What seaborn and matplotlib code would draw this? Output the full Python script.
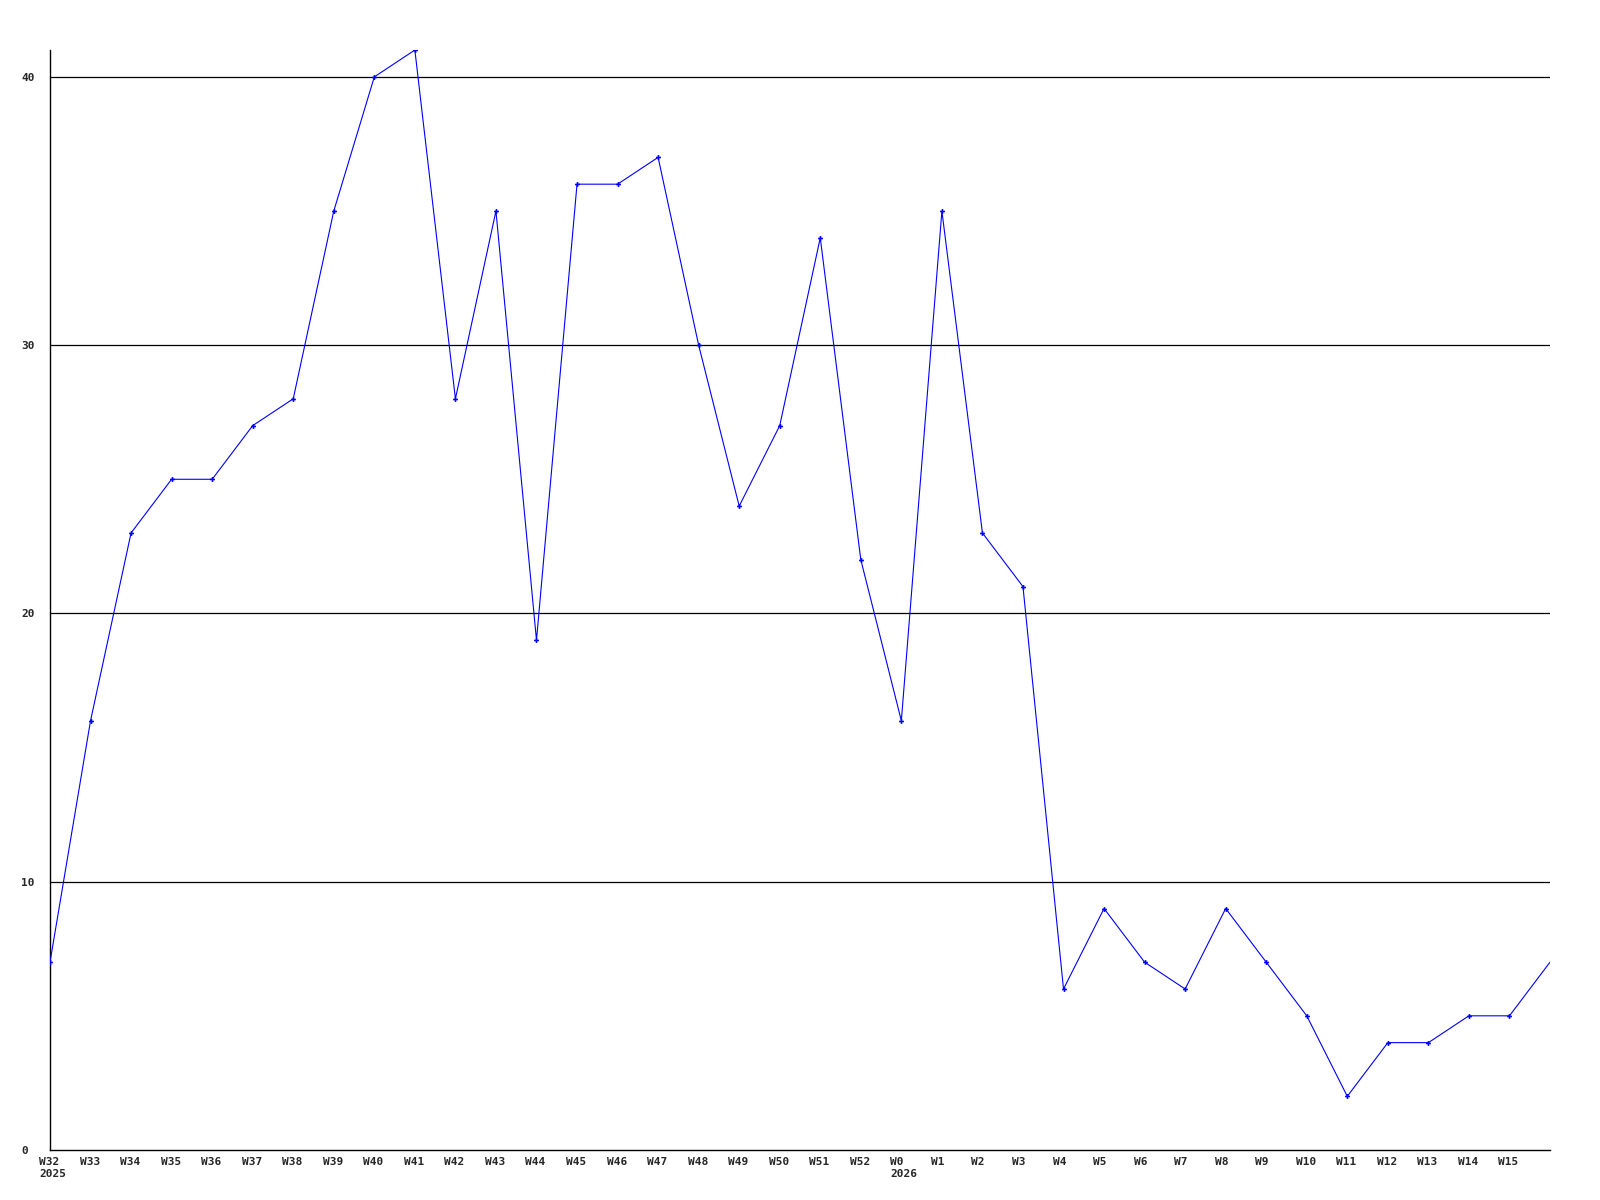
import matplotlib
matplotlib.use("Agg")
import matplotlib.pyplot as plt
import matplotlib.transforms as mtransforms
import seaborn as sns
import pandas as pd

weeks = ["W32", "W33", "W34", "W35", "W36", "W37", "W38", "W39", "W40", "W41",
         "W42", "W43", "W44", "W45", "W46", "W47", "W48", "W49", "W50", "W51",
         "W52", "W0", "W1", "W2", "W3", "W4", "W5", "W6", "W7", "W8",
         "W9", "W10", "W11", "W12", "W13", "W14", "W15", ""]
counts = [7, 16, 23, 25, 25, 27, 28, 35, 40, 41,
          28, 35, 19, 36, 36, 37, 30, 24, 27, 34,
          22, 16, 35, 23, 21, 6, 9, 7, 6, 9,
          7, 5, 2, 4, 4, 5, 5, 7]
year_marks = {"W32": "2025", "W0": "2026"}
y_ticks = [0, 10, 20, 30, 40]

sns.set_theme(style="white")
plt.rcParams['font.family'] = ['DejaVu Sans Mono']

df = pd.DataFrame({"idx": range(len(counts)), "count": counts})

fig = plt.figure(figsize=(16, 12), dpi=100)
ax = fig.add_axes([0.03125, 0.0417, 0.9375, 0.9166])

for y in y_ticks[1:]:
    ax.axhline(y, color="black", linewidth=0.9, zorder=1)

sns.lineplot(data=df, x="idx", y="count", ax=ax, color="#0000ff", linewidth=0.8,
             marker="P", markersize=3.5, markeredgewidth=0, zorder=3,
             markevery=list(range(len(counts) - 1)))

labels = [w + ("\n" + year_marks[w] if w in year_marks else "") for w in weeks]
ax.set_xticks(range(len(weeks)))
ax.set_xticklabels(labels, fontsize=8, fontweight="bold", ha="left")
ax.set_yticks(y_ticks)
ax.set_yticklabels([str(v) for v in y_ticks], fontsize=8, fontweight="bold")
ax.tick_params(axis="x", length=0, pad=5)
ax.tick_params(axis="y", length=0, pad=17)
for lbl in ax.get_yticklabels():
    lbl.set_horizontalalignment("left")

# start x labels just left of the tick position
offset = mtransforms.ScaledTranslation(-11 / 100, 0, fig.dpi_scale_trans)
for lbl in ax.get_xticklabels():
    lbl.set_transform(lbl.get_transform() + offset)
offset_y = mtransforms.ScaledTranslation(-29 / 100, 0, fig.dpi_scale_trans)
for lbl in ax.get_yticklabels():
    lbl.set_transform(ax.get_yaxis_transform() + offset_y)
    lbl.set_x(0)

ax.set_xlim(0, len(counts) - 1)
ax.set_ylim(0, 41)
ax.set_xlabel("")
ax.set_ylabel("")
for side in ["top", "right"]:
    ax.spines[side].set_visible(False)
for side in ["left", "bottom"]:
    ax.spines[side].set_color("black")
    ax.spines[side].set_linewidth(1.0)

fig.savefig("out.png", dpi=100)
